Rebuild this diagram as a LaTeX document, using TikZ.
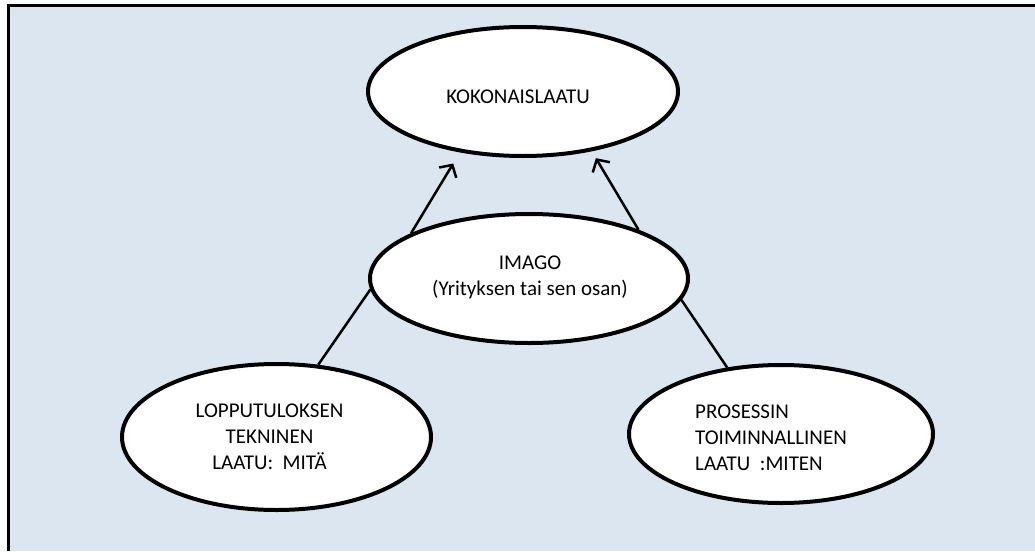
\documentclass[tikz,border=0pt]{standalone}
\usepackage{fontspec}
\setmainfont{Carlito}
\usetikzlibrary{shapes.geometric,arrows.meta}
\definecolor{panel}{RGB}{220,230,241}
\tikzset{
  ell/.style={ellipse, draw=black, line width=4pt, fill=white, inner sep=0pt},
  txt/.style={font=\fontsize{21}{25.8}\selectfont, inner sep=0pt, align=center},
  link/.style={line width=2.5pt, draw=black},
  arr/.style={link, -{Straight Barb[length=9pt,width=20pt]}, shorten >=#1},
}
\begin{document}
\begin{tikzpicture}[x=1pt,y=-1pt]
\useasboundingbox (0,0) rectangle (1035,551);
% panel with border on left and top edges
\fill[panel] (8.5,5.5) rectangle (1035,551);
\draw[line width=3pt] (8.5,551) -- (8.5,5.5) -- (1035,5.5);

% ellipses
\node[ell, minimum width=310pt, minimum height=129pt] (koko) at (523,91.5) {};
\node[ell, minimum width=318pt, minimum height=129pt] (imago) at (529,278.5) {};
\node[ell, minimum width=309pt, minimum height=146pt] (lopp) at (276.5,437) {};
\node[ell, minimum width=304pt, minimum height=138pt] (pros) at (781,434) {};

% texts
\node[txt] (kokot) at ([xshift=-5pt,yshift=-5pt]koko.center) {KOKONAISLAATU};
\node[txt] (imagot) at ([xshift=1pt,yshift=1pt]imago.center) {IMAGO\\(Yrityksen tai sen osan)};
\node[txt] (loppt) at ([xshift=-7pt]lopp.center) {LOPPUTULOKSEN\\TEKNINEN\\LAATU:\ \ MITÄ};
\node[txt, align=left] (prost) at ([xshift=-10pt,yshift=-3.5pt]pros.center) {PROSESSIN\\TOIMINNALLINEN\\LAATU\ \ :MITEN};

% connectors
\draw[arr=13pt] (imago.159) -- (koko.224);
\draw[arr=8pt] (imago.24) -- (koko.319.4);
\draw[link] (lopp.60) -- (imago.184);
\draw[link] (pros.129.5) -- (imago.352);
\end{tikzpicture}
\end{document}
